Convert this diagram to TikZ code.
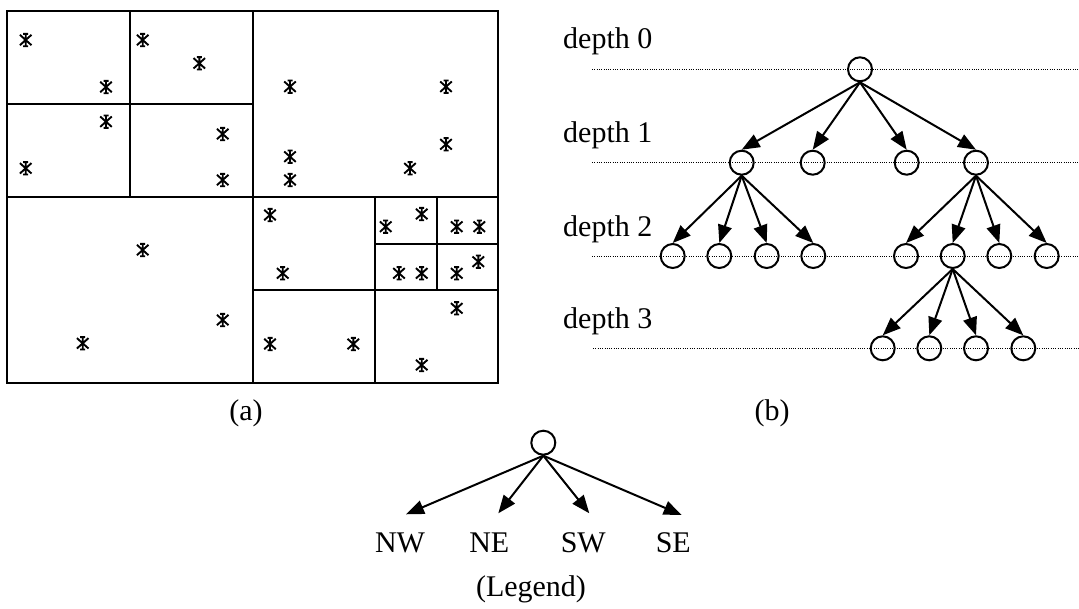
\documentclass[tikz,border=0pt]{standalone}
\usepackage{fontspec}
\setmainfont{Liberation Serif}
\usetikzlibrary{arrows.meta}
\tikzset{
  lbl/.style={font=\fontsize{30}{36}\selectfont, inner sep=0pt},
  tn/.style={circle, draw, line width=2pt, minimum size=24pt, inner sep=0pt},
  arr/.style={line width=2pt, -{Triangle[length=18pt,width=14pt]}},
  dotline/.style={line width=1pt, dash pattern=on 1pt off 1.3pt},
  boxline/.style={line width=2pt},
  pts/.pic={\draw[line width=1.9pt] (-5.8,-5.2)--(5.8,5.2) (-5.8,5.2)--(5.8,-5.2) (0,-7)--(0,7) (-2.5,-6.2)--(2.5,-6.2) (-2.5,6.2)--(2.5,6.2);}
}
\begin{document}
\begin{tikzpicture}[x=1pt,y=-1pt]
\useasboundingbox (0,0) rectangle (1079,608);
% ---------- (a) quadtree ----------
\draw[boxline] (7,11) rectangle (498,383);
\draw[boxline] (252.5,11) -- (252.5,383) (7,197) -- (498,197);
\draw[boxline] (129.5,11) -- (129.5,197) (7,104) -- (252.5,104);
\draw[boxline] (375,197) -- (375,383) (252.5,290) -- (498,290);
\draw[boxline] (437,197) -- (437,290) (375,243.5) -- (498,243.5);
\foreach \p in {(25.7,40),(106,87),(142.7,40),(199.3,63.3),(106,121.7),(222.7,134),(25.7,168.3),(222.7,180),
  (290,86.7),(446,86.7),(290,156.7),(290,180),(410,168.3),(446,144.3),
  (142.7,250),(222.7,320),(82.7,343.3),
  (270,215),(282.7,273.3),(385.7,226.7),(421.7,214),(456.7,226.7),(479.3,226.7),(399,273.3),(421.7,273.3),(456.7,273.3),(478.3,261.7),(456.7,308.3),(270,344),(353.3,344),(421.7,365)}
  \pic at \p {pts};
\node[lbl] (capa) at (246,413) {(a)};
% ---------- (b) tree ----------
\node[lbl, anchor=base west] (d0) at (563,48) {depth 0};
\node[lbl, anchor=base west] (d1) at (563,142) {depth 1};
\node[lbl, anchor=base west] (d2) at (563,236) {depth 2};
\node[lbl, anchor=base west] (d3) at (563,328) {depth 3};
\coordinate (l0a) at (592,69.3); \coordinate (l0b) at (1079,69.3);
\coordinate (l1a) at (592,162.7); \coordinate (l1b) at (1079,162.7);
\coordinate (l2a) at (592,256); \coordinate (l2b) at (1079,256);
\coordinate (l3a) at (593,348.3); \coordinate (l3b) at (1079,348.3);
\draw[dotline] (l0a) -- (l0b);
\draw[dotline] (l1a) -- (l1b);
\draw[dotline] (l2a) -- (l2b);
\draw[dotline] (l3a) -- (l3b);
\node[tn] (r) at (860,69.3) {};
\node[tn] (a1) at (741.7,162.7) {};
\node[tn] (a2) at (812.7,162.7) {};
\node[tn] (a3) at (906.7,162.7) {};
\node[tn] (a4) at (976,162.7) {};
\node[tn] (b1) at (672.7,256) {};
\node[tn] (b2) at (719.3,256) {};
\node[tn] (b3) at (766.7,256) {};
\node[tn] (b4) at (813.3,256) {};
\node[tn] (b5) at (906,256) {};
\node[tn] (b6) at (952.7,256) {};
\node[tn] (b7) at (999.3,256) {};
\node[tn] (b8) at (1046.7,256) {};
\node[tn] (c1) at (882.7,348.3) {};
\node[tn] (c2) at (929.3,348.3) {};
\node[tn] (c3) at (976,348.3) {};
\node[tn] (c4) at (1023.3,348.3) {};
\foreach \c in {a1,a2,a3,a4} \draw[arr] (r.south) -- (\c.north);
\foreach \c in {b1,b2,b3,b4} \draw[arr] (a1.south) -- (\c.north);
\foreach \c in {b5,b6,b7,b8} \draw[arr] (a4.south) -- (\c.north);
\foreach \c in {c1,c2,c3,c4} \draw[arr] (b6.south) -- (\c.north);
\node[lbl] (capb) at (772,413) {(b)};
% ---------- legend ----------
\node[tn] (lr) at (543.3,442.7) {};
\coordinate (tnw) at (406,514.3);
\coordinate (tne) at (498.3,513.3);
\coordinate (tsw) at (589.3,513.3);
\coordinate (tse) at (681.7,515);
\foreach \c in {tnw,tne,tsw,tse} \draw[arr] (lr.south) -- (\c);
\node[lbl] (nw) at (400,543) {NW};
\node[lbl] (ne) at (489.3,543) {NE};
\node[lbl] (sw) at (583.3,543) {SW};
\node[lbl] (se) at (673.3,543) {SE};
\node[lbl] (leg) at (531,589) {(Legend)};
\end{tikzpicture}
\end{document}
